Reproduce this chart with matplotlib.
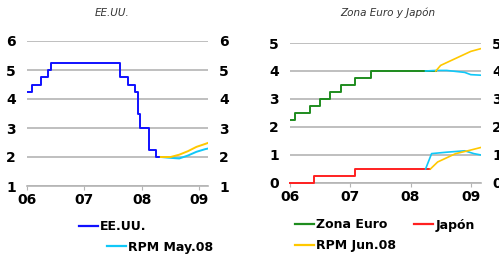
import matplotlib
matplotlib.use("Agg")
import matplotlib.pyplot as plt
from matplotlib.lines import Line2D

# x values are years since Jan 2006
us_x = [0.0, 0.08, 0.24, 0.36, 0.42, 1.62, 1.75, 1.88, 1.93, 1.97, 2.02, 2.12, 2.24, 2.33]
us_y = [4.25, 4.5, 4.75, 5.0, 5.25, 4.75, 4.5, 4.25, 3.5, 3.0, 3.0, 2.25, 2.0, 2.0]

us_may_x = [2.33, 2.5, 2.65, 2.8, 2.95, 3.1, 3.17]
us_may_y = [2.0, 1.97, 1.95, 2.05, 2.18, 2.27, 2.3]
us_jun_x = [2.33, 2.5, 2.65, 2.8, 2.95, 3.1, 3.17]
us_jun_y = [2.0, 2.0, 2.08, 2.2, 2.35, 2.45, 2.5]

eu_x = [0.0, 0.08, 0.33, 0.5, 0.67, 0.85, 1.08, 1.35, 2.42]
eu_y = [2.25, 2.5, 2.75, 3.0, 3.25, 3.5, 3.75, 4.0, 4.0]
eu_may_x = [2.25, 2.42, 2.6, 2.9, 3.0, 3.17]
eu_may_y = [4.0, 4.02, 4.02, 3.95, 3.87, 3.85]
eu_jun_x = [2.42, 2.5, 2.6, 2.75, 2.9, 3.0, 3.17]
eu_jun_y = [4.0, 4.2, 4.3, 4.45, 4.6, 4.7, 4.8]

jp_x = [0.0, 0.4, 1.08, 2.33]
jp_y = [0.0, 0.25, 0.5, 0.5]
jp_may_x = [2.25, 2.35, 2.6, 2.9, 3.05, 3.17]
jp_may_y = [0.5, 1.05, 1.1, 1.15, 1.05, 1.0]
jp_jun_x = [2.33, 2.45, 2.6, 2.75, 2.95, 3.17]
jp_jun_y = [0.5, 0.75, 0.9, 1.05, 1.15, 1.27]

xtick_pos = [0, 1, 2, 3]
xtick_labels = ["06", "07", "08", "09"]

BLUE = "#1010ff"
CYAN = "#10c8f8"
YELLOW = "#ffc800"
GREEN = "#1e8c1e"
RED = "#ff2020"
GRID = "#b4b4b4"

fig = plt.figure(figsize=(4.99, 2.57), dpi=100)

def style(ax, ylo, yhi, xhi):
    ax.set_xlim(0, xhi)
    ax.set_ylim(ylo, yhi)
    ax.set_yticks(range(ylo, yhi + 1))
    ax.set_xticks(xtick_pos)
    ax.set_xticklabels(xtick_labels)
    for s in ["top", "left", "right"]:
        ax.spines[s].set_visible(False)
    ax.spines["bottom"].set_color(GRID)
    ax.spines["bottom"].set_linewidth(1.2)
    ax.spines["bottom"].set_zorder(1)
    ax.yaxis.grid(True, color=GRID, linewidth=1.2)
    ax.set_axisbelow(True)
    ax.tick_params(axis="y", length=0, labelsize=10, pad=8,
                   labelleft=True, labelright=True)
    ax.tick_params(axis="x", length=3, color=GRID, labelsize=10, pad=2)
    for lab in ax.get_xticklabels():
        lab.set_fontweight("bold")
    for t in ax.yaxis.get_major_ticks():
        t.label1.set_fontweight("bold")
        t.label2.set_fontweight("bold")
        t.label2.set_fontsize(10)

ax1 = fig.add_axes([27/499, 1 - 186/257, 181/499, 145/257])
ax1.step(us_x, us_y, where="post", color=BLUE, lw=1.4, zorder=3)
ax1.plot(us_may_x, us_may_y, color=CYAN, lw=1.4, zorder=3)
ax1.plot(us_jun_x, us_jun_y, color=YELLOW, lw=1.4, zorder=3)
style(ax1, 1, 6, 3.15)

ax2 = fig.add_axes([290/499, 1 - 183/257, 191/499, 140/257])
ax2.step(eu_x, eu_y, where="post", color=GREEN, lw=1.4, zorder=3)
ax2.step(jp_x, jp_y, where="post", color=RED, lw=1.4, zorder=3, clip_on=False)
ax2.plot(eu_may_x, eu_may_y, color=CYAN, lw=1.2, zorder=3)
ax2.plot(jp_may_x, jp_may_y, color=CYAN, lw=1.2, zorder=3)
ax2.plot(eu_jun_x, eu_jun_y, color=YELLOW, lw=1.2, zorder=3)
ax2.plot(jp_jun_x, jp_jun_y, color=YELLOW, lw=1.2, zorder=3)
style(ax2, 0, 5, 3.17)

fig.text(112/499, 1 - 13/257, "EE.UU.", fontsize=7.5, style="italic",
         ha="center", va="center", color="#333333")
fig.text(388/499, 1 - 13/257, "Zona Euro y Japón", fontsize=7.5, style="italic",
         ha="center", va="center", color="#333333")

def leg(label, color, x, y):
    h = Line2D([], [], color=color, lw=1.6)
    l = fig.legend([h], [label], loc="center left", bbox_to_anchor=(x/499, 1 - y/257),
                   frameon=False, handlelength=1.5, handletextpad=0.2,
                   borderaxespad=0, borderpad=0,
                   prop={"weight": "bold", "size": 9})
    return l

leg("EE.UU.", BLUE, 79, 227)
leg("RPM May.08", CYAN, 107, 247)
leg("Zona Euro", GREEN, 295, 225)
leg("Japón", RED, 414, 225)
leg("RPM Jun.08", YELLOW, 295, 246)

fig.savefig("out.png", dpi=100)
